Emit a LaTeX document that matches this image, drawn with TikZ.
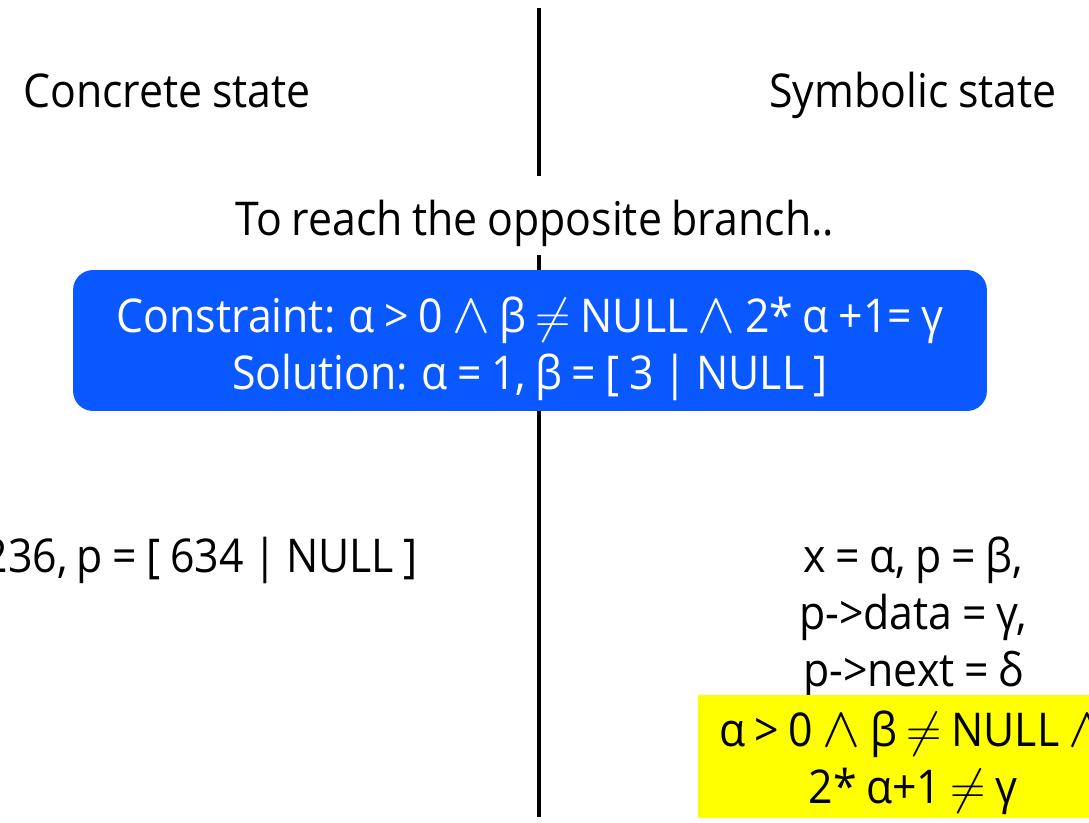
\documentclass[tikz,border=0pt]{standalone}
\usepackage{fontspec}
\setmainfont[FakeStretch=0.92, WordSpace=0.85]{Open Sans}
\newcommand{\andsym}{\scalebox{1.3}{$\wedge$}}
\newcommand{\nesym}{\scalebox{1.12}{$\neq$}}
\definecolor{boxblue}{RGB}{10,88,255}
\definecolor{boxyellow}{RGB}{255,255,0}
\tikzset{
  lbl/.style={inner sep=0pt, font=\fontsize{26.5}{32.4}\selectfont, align=center, anchor=base},
  divider/.style={line width=2.3pt, black},
  constraintbox/.style={fill=boxblue, rounded corners=0.4cm, inner sep=0pt,
    minimum width=18.28cm, minimum height=2.82cm},
  pathcond/.style={fill=boxyellow, inner sep=0pt, minimum width=8.64cm, minimum height=2.46cm},
}
\begin{document}
\begin{tikzpicture}[x=0.02cm, y=-0.02cm]
  \path[use as bounding box, clip] (0,0) rectangle (1089,822);

  % dividing line between the two states, interrupted by the caption
  \coordinate (divtop) at (539,8);
  \coordinate (divgapa) at (539,176);
  \coordinate (divgapb) at (539,255);
  \coordinate (divbot) at (539,817);
  \draw[divider] (divtop) -- (divgapa);
  \draw[divider] (divgapb) -- (divbot);

  % column headings
  \node[lbl] (concrete) at (167,107) {Concrete state};
  \node[lbl] (symbolic) at (913,107) {Symbolic state};

  % caption
  \node[lbl] (reach) at (535,235) {To reach the opposite branch..};

  % solver query
  \node[constraintbox] (solver) at (530,340.5) {};
  \node[lbl, text=white] (solverc) at (530,332)
    {Constraint: α > 0 \andsym\ β \nesym\ NULL \andsym\ 2* α +1= γ};
  \node[lbl, text=white] (solvers) at (530,389)
    {Solution: α = 1, β = [ 3 | NULL ]};

  % concrete values
  \node[lbl, anchor=base east] (cvals) at (418,572) {236, p = [ 634 | NULL ]};

  % symbolic values (anchored at the baseline of the last line)
  \node[lbl] (svals) at (913,686) {x = α, p = β,\\ p->data = γ,\\ p->next = δ};

  % path condition
  \node[pathcond] (cond) at (914,756.5) {};
  \node[lbl] (condtext) at (913,803)
    {α > 0 \andsym\ β \nesym\ NULL \andsym\\ 2* α+1 \nesym\ γ};
\end{tikzpicture}
\end{document}
